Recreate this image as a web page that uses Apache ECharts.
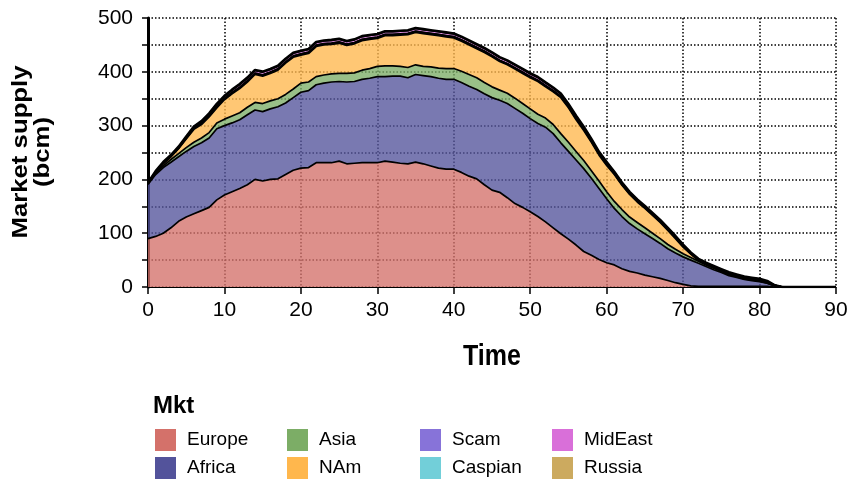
<!DOCTYPE html>
<html><head><meta charset="utf-8">
<script src="https://cdn.jsdelivr.net/npm/echarts@6/dist/echarts.min.js"></script>
<style>html,body{margin:0;padding:0;background:#fff}#c{width:852px;height:484px}</style>
</head><body><div id="c"></div>
<script>
const time = [0,1,2,3,4,5,6,7,8,9,10,11,12,13,14,15,16,17,18,19,20,21,22,23,24,25,26,27,28,29,30,31,32,33,34,35,36,37,38,39,40,41,42,43,44,45,46,47,48,49,50,51,52,53,54,55,56,57,58,59,60,61,62,63,64,65,66,67,68,69,70,71,72,73,74,75,76,77,78,79,80,81,82,83,84,85,86,87,88,89,90];
const europe = [90,94,100,110,122,130,136,142,148,162, 171,177,183,190,200,197,200,201,209,217, 221,222,231,231,231,234,229,230,231,231, 231,234,232,230,229,232,229,225,221,219, 219,213,206,201,190,180,176,166,155,148, 140,131,121,110,99,89,78,66,59,51, 45,41,34,29,26,22,19,16,12,8, 5,2,1,1,1,1,1,1,1,1, 1,1,0,0,0,0,0,0,0,0,0];
const africa = [101,115,122,122,120,122,125,126,129,132, 129,128,128,130,129,129,131,134,133,135, 141,143,145,148,150,148,152,152,155,157, 160,157,160,162,160,163,164,166,167,167, 167,167,167,166,169,172,171,175,177,175, 173,173,176,175,169,163,158,154,143,132, 119,105,97,89,82,77,71,65,59,55, 51,48,43,37,31,26,20,17,13,11, 9,6,2,0,0,0,0,0,0,0,0];
const asia = [0,2,3,5,6,7,8,9,10,11, 12,13,13,14,14,15,15,15,16,16, 17,16,15,15,15,15,16,16,17,18, 19,20,19,18,19,18,17,18,19,20, 20,21,22,22,21,20,19,19,19,18, 18,17,17,17,17,17,16,15,14,14, 13,13,13,12,12,11,10,9,8,7, 6,5,4,3,3,2,2,1,1,1, 1,0,0,0,0,0,0,0,0,0,0];
const nam = [3,2,4,5,9,16,24,25,29,28, 36,41,45,47,52,51,51,53,58,59, 52,53,56,56,55,56,52,54,55,54, 52,56,56,58,61,60,61,60,60,59, 57,56,55,54,56,56,53,53,54,56, 58,61,58,61,67,64,59,56,53,48, 49,50,45,42,38,36,33,30,26,20, 12,6,1,1,1,1,1,1,1,1, 1,1,1,0,0,0,0,0,0,0,0];
const scam = [0,0.5,1,1,1,1.5,1.5,2,2,2, 2,2,2,2,2,2,2,2,2,2, 2,2,2,2,2,2,2,2,2,2, 2,2,2,2,2,2,2,2,2,2, 2,2,2,2,2,2,2,2,2,2, 2,2,2,2,2,2,2,2,2,2, 2,1.5,1.5,1.5,1.5,1.5,1.5,1.5,1.5,1.5, 1.5,1,1,1,1,1,1,1,1,1, 1,1,0,0,0,0,0,0,0,0,0];
const caspian = [0,0.5,0.5,0.5,0.5,0.5,0.5,0.5,0.5,0.5, 0.5,0.5,0.5,0.5,0.5,0.5,0.5,0.5,0.5,0.5, 0.5,0.5,0.5,0.5,0.5,0.5,0.5,0.5,0.5,0.5, 0.5,0.5,0.5,0.5,0.5,0.5,0.5,0.5,0.5,0.5, 0.5,0.5,0.5,0.5,0.5,0.5,0.5,0.5,0.5,0.5, 0.5,0.5,0.5,0.5,0.5,0.5,0.5,0.5,0.5,0.5, 0.5,0.5,0.5,0.5,0.5,0.5,0.5,0.5,0.5,0.5, 0.5,0.5,0.5,0.5,0.5,0.5,0.5,0.5,0.5,0.5, 0.5,0.5,0,0,0,0,0,0,0,0,0];
const mideast = [0,0.5,1,1,1.5,2,2.5,3,3.5,4, 4,4.5,5,5,5,5,5,5,5,5, 5,5,5,5,5,5,5,5,5,5, 5,5,5,5,5,5,5,5,5,5, 5,5,5,5,5,5,5,5,5,5, 5,5,5,4.5,4.5,4,4,3.5,3,3, 3,2.5,2.5,2,2,2,2,2,2,2, 2,1,1,1,1,1,1,1,1,1, 1,1,0,0,0,0,0,0,0,0,0];
const russia = [0,0.8,0.8,0.8,0.8,0.8,0.8,0.8,0.8,0.8, 0.8,0.8,0.8,0.8,0.8,0.8,0.8,0.8,0.8,0.8, 0.8,0.8,0.8,0.8,0.8,0.8,0.8,0.8,0.8,0.8, 0.8,0.8,0.8,0.8,0.8,0.8,0.8,0.8,0.8,0.8, 0.8,0.8,0.8,0.8,0.8,0.8,0.8,0.8,0.8,0.8, 0.8,0.8,0.8,0.8,0.8,0.8,0.8,0.8,0.8,0.8, 0.8,0.8,0.8,0.8,0.8,0.8,0.8,0.8,0.8,0.8, 0.8,0.8,0.8,0.8,0.8,0.8,0.8,0.8,0.8,0.8, 0.8,0.8,0,0,0,0,0,0,0,0,0];
const seriesNames = ['Europe','Africa','Asia','NAm','Scam','Caspian','MidEast','Russia'];
const seriesValues = [europe, africa, asia, nam, scam, caspian, mideast, russia];
const yTicks = [0,100,200,300,400,500];
const xTicks = [0,10,20,30,40,50,60,70,80,90];

const colors = ['#d4716a','#53539b','#7cad66','#ffb74d','#8773d9','#72cfd9','#d96fd9','#ccaa5f'];
const font = '"Liberation Sans", Arial, sans-serif';

const series = seriesNames.map((n, i) => ({
  name: n, type: 'line', stack: 'all', symbol: 'none', smooth: false,
  data: seriesValues[i],
  itemStyle: { color: colors[i] },
  lineStyle: { color: '#000', width: i === seriesNames.length - 1 ? 2.6 : 1.7 },
  areaStyle: { color: colors[i], opacity: 0.78 },
  emphasis: { disabled: true },
  z: 2
}));

const legendPos = [[155,429],[155,457],[287,429],[287,457],[420,429],[420,457],[552,429],[552,457]];
const legendOrder = ['Europe','Africa','Asia','NAm','Scam','Caspian','MidEast','Russia'];
const legends = legendOrder.map((n, i) => ({
  data: [n], left: legendPos[i][0], top: legendPos[i][1], orient: 'horizontal',
  icon: 'rect', itemWidth: 21, itemHeight: 22, selectedMode: false, padding: 0,
  textStyle: { fontFamily: font, fontSize: 19, color: '#000', padding: [0,0,0,6] }
}));

const tickEvery = (idx) => xTicks.includes(time[idx]);

const chart = echarts.init(document.getElementById('c'), null, { renderer: 'canvas' });
chart.setOption({
  animation: false,
  backgroundColor: '#fff',
  color: colors,
  grid: { left: 148, right: 16, top: 18, bottom: 197, containLabel: false },
  title: { text: 'Mkt', left: 153, top: 394, padding: 0,
    textStyle: { fontFamily: font, fontSize: 24, fontWeight: 'bold', color: '#000' } },
  legend: legends,
  xAxis: {
    type: 'category', data: time, boundaryGap: false,
    axisLine: { show: true, lineStyle: { color: '#000', width: 1 } },
    axisTick: { show: true, length: 7, interval: tickEvery, lineStyle: { color: '#000', width: 1.5 } },
    axisLabel: { fontFamily: font, fontSize: 21, color: '#000', margin: 13, interval: tickEvery },
    splitLine: { show: true, interval: tickEvery, lineStyle: { color: '#000', width: 1.5, type: [1.5, 2] } }
  },
  yAxis: {
    type: 'value', min: 0, max: 500, interval: 50,
    axisLine: { show: true, lineStyle: { color: '#000', width: 3 } },
    axisTick: { show: true, length: 6, lineStyle: { color: '#000', width: 1.5 } },
    axisLabel: { fontFamily: font, fontSize: 21, color: '#000', margin: 15,
      formatter: v => yTicks.includes(v) ? String(v) : '' },
    splitLine: { show: true, lineStyle: { color: '#000', width: 1.5, type: [1.5, 2] } }
  },
  graphic: [{
    type: 'text', x: 32, y: 152, rotation: Math.PI / 2, scaleX: 1.17,
    style: { text: 'Market supply\n(bcm)', font: 'bold 22px ' + font, fill: '#000',
      textAlign: 'center', textVerticalAlign: 'middle', lineHeight: 22 }
  }, {
    type: 'text', x: 492, y: 357, scaleY: 1.2,
    style: { text: 'Time', font: 'bold 25px ' + font, fill: '#000',
      textAlign: 'center', textVerticalAlign: 'middle' }
  }],
  series: series
});
</script>
</body></html>
